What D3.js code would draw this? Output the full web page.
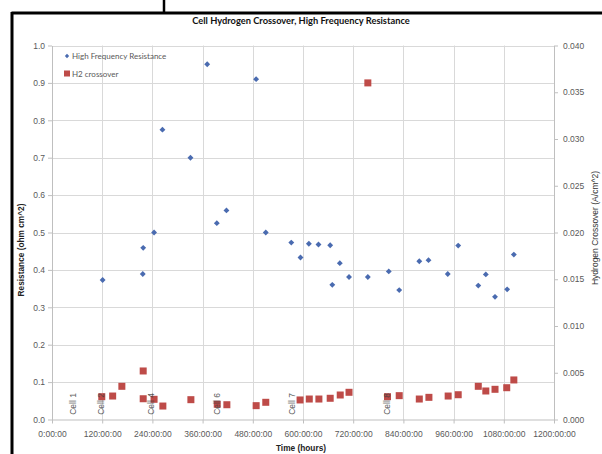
<!DOCTYPE html>
<html><head><meta charset="utf-8">
<script src="https://cdn.jsdelivr.net/npm/d3@7"></script>
<style>body{margin:0;background:#fff}svg{display:block}</style>
</head><body>
<svg id="c" width="602" height="454"></svg>
<script>
// Data (time in hours)
const hfrHours = [121,217,218,244,264,331,371,394,417,488,511,572,594,614,637,665,670,688,710,755,805,830,878,900,946,971,1019,1037,1059,1088,1104];
const hfrValues = [0.373,0.389,0.459,0.50,0.775,0.70,0.95,0.525,0.559,0.91,0.50,0.473,0.433,0.47,0.468,0.466,0.36,0.418,0.381,0.381,0.396,0.346,0.423,0.426,0.389,0.465,0.358,0.388,0.328,0.348,0.441];
const h2Hours = [119,145,167,218,218,244,265,332,395,418,488,511,593,615,638,665,689,710,755,802,830,878,901,947,971,1019,1037,1059,1087,1104];
const h2Values = [0.00244,0.00251,0.00355,0.00519,0.00222,0.00216,0.00144,0.00212,0.00163,0.00158,0.00148,0.00184,0.00209,0.00219,0.00219,0.00227,0.00262,0.00291,0.036,0.00244,0.00255,0.00219,0.00237,0.00251,0.00265,0.00355,0.00305,0.00323,0.0034,0.00423];
const cellLabelHours = [50,117,237,394,574,801];
const cellLabels = ["Cell 1","Cell 2","Cell 4","Cell 6","Cell 7","Cell 8"];
const xTicks = [0,120,240,360,480,600,720,840,960,1080,1200];
const yLeftTicks = [0,0.1,0.2,0.3,0.4,0.5,0.6,0.7,0.8,0.9,1.0];
const yRightTicks = [0,0.005,0.010,0.015,0.020,0.025,0.030,0.035,0.040];

const svg = d3.select("#c");
const L = 52, R = 554, T = 45.5, B = 419.5;
const x = d3.scaleLinear().domain([0,1200]).range([L,R]);
const yL = d3.scaleLinear().domain([0,1]).range([B,T]);
const yR = d3.scaleLinear().domain([0,0.04]).range([B,T]);
const font = "'Liberation Sans', Arial, sans-serif";
const gridC = "#d9d9d9", axisC = "#bfbfbf", txtC = "#595959";

// outer frame
svg.append("line").attr("x1",11.5).attr("x2",602).attr("y1",13).attr("y2",13).attr("stroke","#000").attr("stroke-width",3);
svg.append("line").attr("x1",12).attr("x2",12).attr("y1",12).attr("y2",454).attr("stroke","#000").attr("stroke-width",3);
svg.append("line").attr("x1",164).attr("x2",164).attr("y1",0).attr("y2",12).attr("stroke","#000").attr("stroke-width",2.5);

// title
svg.append("text").attr("x",301).attr("y",24).attr("text-anchor","middle")
  .attr("font-family","Lato, 'Open Sans', sans-serif").attr("font-weight","bold").attr("font-size",9.3).attr("fill","#111")
  .text("Cell Hydrogen Crossover, High Frequency Resistance");

// gridlines
svg.append("g").selectAll("line").data(yLeftTicks.slice(1)).join("line")
  .attr("x1",L).attr("x2",R).attr("y1",d=>Math.round(yL(d))+0.5).attr("y2",d=>Math.round(yL(d))+0.5)
  .attr("stroke",gridC).attr("stroke-width",1);
svg.append("g").selectAll("line").data(xTicks.slice(1,-1)).join("line")
  .attr("y1",T).attr("y2",B).attr("x1",d=>Math.round(x(d))+0.5).attr("x2",d=>Math.round(x(d))+0.5)
  .attr("stroke",gridC).attr("stroke-width",1);

function styleAxis(g){
  g.select(".domain").attr("stroke",axisC);
  g.selectAll(".tick line").attr("stroke",axisC);
  g.selectAll(".tick text").attr("fill",txtC).attr("font-family",font).attr("font-size",8.5);
}
svg.append("g").attr("transform",`translate(0,${B})`)
  .call(d3.axisBottom(x).tickValues(xTicks).tickSize(4).tickSizeOuter(0).tickFormat(d=>d+":00:00"))
  .call(styleAxis).call(g=>g.selectAll(".tick text").attr("dy","1.25em"));
svg.append("g").attr("transform",`translate(${L},0)`)
  .call(d3.axisLeft(yL).tickValues(yLeftTicks).tickSize(4).tickSizeOuter(0).tickFormat(d3.format(".1f")))
  .call(styleAxis).call(g=>g.selectAll(".tick text").attr("x",-7));
svg.append("g").attr("transform",`translate(${R},0)`)
  .call(d3.axisRight(yR).tickValues(yRightTicks).tickSize(4).tickSizeOuter(0).tickFormat(d3.format(".3f")))
  .call(styleAxis).call(g=>g.selectAll(".tick text").attr("x",9));

// axis titles
svg.append("text").attr("transform",`translate(24,250) rotate(-90)`).attr("text-anchor","middle")
  .attr("font-family",font).attr("font-weight","bold").attr("font-size",8.3).attr("fill","#222")
  .text("Resistance (ohm cm^2)");
svg.append("text").attr("transform",`translate(598,228) rotate(-90)`).attr("text-anchor","middle")
  .attr("font-family",font).attr("font-size",8.5).attr("fill","#333")
  .text("Hydrogen Crossover (A/cm^2)");
svg.append("text").attr("x",301).attr("y",451).attr("text-anchor","middle")
  .attr("font-family",font).attr("font-weight","bold").attr("font-size",8.3).attr("fill","#222")
  .text("Time (hours)");

// H2 squares
const blue = "#4a6bb0", red = "#be4b48";
svg.append("g").selectAll("rect").data(h2Hours.map((h,i)=>[h,h2Values[i]])).join("rect")
  .attr("x",d=>x(d[0])-3.5).attr("y",d=>yR(d[1])-3.5).attr("width",7).attr("height",7).attr("fill",red);

// cell labels
svg.append("g").selectAll("text").data(cellLabelHours.map((h,i)=>[h,cellLabels[i]])).join("text")
  .attr("transform",d=>`translate(${x(d[0])+3},404) rotate(-90)`).attr("text-anchor","middle")
  .attr("font-family",font).attr("font-size",8.5).attr("fill","#404040").attr("opacity",0.85)
  .text(d=>d[1]);

// HFR diamonds
const diamond = d3.symbol().type(d3.symbolDiamond2).size(22);
svg.append("g").selectAll("path").data(hfrHours.map((h,i)=>[h,hfrValues[i]])).join("path")
  .attr("transform",d=>`translate(${x(d[0])},${yL(d[1])})`).attr("d",diamond).attr("fill",blue);

// legend
const lg = svg.append("g").attr("font-family","Lato, 'Open Sans', sans-serif").attr("font-size",8).attr("fill","#595959");
lg.append("path").attr("transform","translate(67,56)").attr("d",d3.symbol().type(d3.symbolDiamond2).size(12)).attr("fill",blue);
lg.append("text").attr("x",72).attr("y",59).text("High Frequency Resistance");
lg.append("rect").attr("x",64).attr("y",70.5).attr("width",6).attr("height",6).attr("fill",red);
lg.append("text").attr("x",72).attr("y",76.5).text("H2 crossover");
</script>
</body></html>
